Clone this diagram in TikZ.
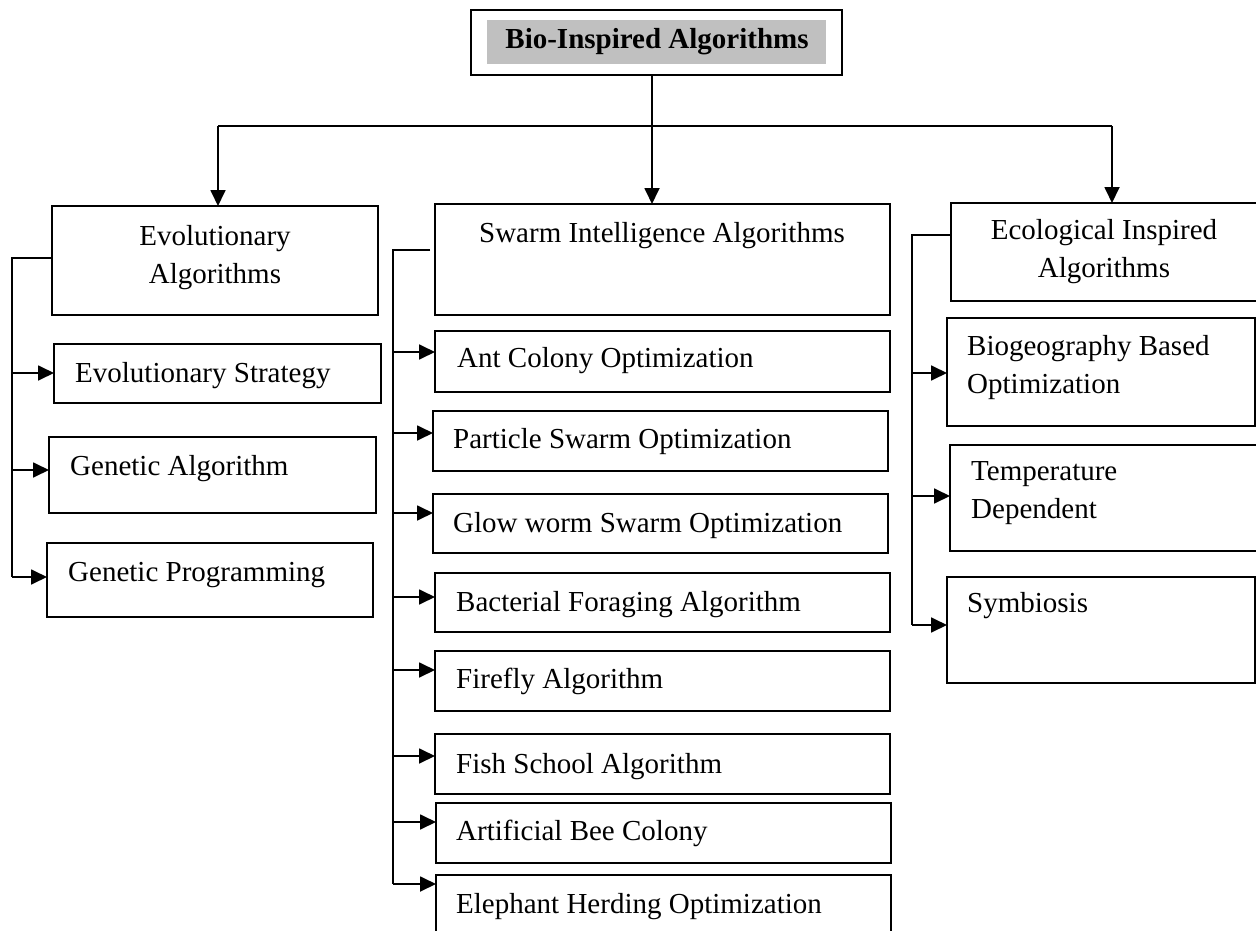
\documentclass[tikz,border=0pt]{standalone}
\usepackage{fontspec}
\setmainfont{Liberation Serif}
\usetikzlibrary{arrows.meta,calc}
% A plain rectangle given by its corners: name, x1, y1, x2, y2 (y grows downwards)
\newcommand\algbox[5]{%
  \node[box, minimum width={(#4-#2)*1pt}, minimum height={(#5-#3)*1pt}] (#1) at (#2,#3) {};}
% A branch arrow from a bus line into a box at height y
\newcommand\feed[3]{\draw[arr] (#1 |- 0,#3) -- (#2.west |- 0,#3);}
\begin{document}
\begin{tikzpicture}[x=1pt,y=-1pt,
  box/.style={draw=black, line width=1.6pt, rectangle, inner sep=0pt, outer sep=0pt, anchor=north west},
  lbl/.style={font=\fontsize{29}{38}\selectfont, inner sep=0pt, align=left, anchor=base west},
  clbl/.style={font=\fontsize{29}{38}\selectfont, inner sep=0pt, align=center, anchor=base},
  wire/.style={line width=1.8pt},
  arr/.style={wire, -{Triangle[length=16pt,width=15pt]}}]
\useasboundingbox (0,0) rectangle (1256,931);
\clip (0,0) rectangle (1256,931);

% ---- root ----
\algbox{root}{471}{10}{842}{75}
\fill[fill={rgb,255:red,192;green,192;blue,192}] (487,20) rectangle (826,64);
\node[clbl, font=\fontsize{29}{38}\selectfont\bfseries] (root-t) at (657,49) {Bio-Inspired Algorithms};

% ---- column headings (base = last line) ----
\algbox{evo}{52}{206}{378}{315}
\node[clbl] (evo-t) at (215,283) {Evolutionary\\Algorithms};
\algbox{swarm}{435}{204}{890}{315}
\node[clbl] (swarm-t) at (662,242) {Swarm Intelligence Algorithms};
\algbox{eco}{951}{203}{1275}{301}
\node[clbl] (eco-t) at (1104,277) {Ecological Inspired\\Algorithms};

% ---- evolutionary family ----
\algbox{es}{54}{344}{381}{403}
\node[lbl] (es-t) at (75,382) {Evolutionary Strategy};
\algbox{ga}{49}{437}{376}{513}
\node[lbl] (ga-t) at (70,475) {Genetic Algorithm};
\algbox{gp}{47}{543}{373}{617}
\node[lbl] (gp-t) at (68,581) {Genetic Programming};

% ---- swarm family ----
\algbox{aco}{435}{331}{890}{392}
\node[lbl] (aco-t) at (457,367) {Ant Colony Optimization};
\algbox{pso}{433}{411}{888}{471}
\node[lbl] (pso-t) at (453,448) {Particle Swarm Optimization};
\algbox{gso}{433}{494}{888}{553}
\node[lbl] (gso-t) at (453,532) {Glow worm Swarm Optimization};
\algbox{bfa}{435}{573}{890}{632}
\node[lbl] (bfa-t) at (456,611) {Bacterial Foraging Algorithm};
\algbox{ffa}{435}{651}{890}{711}
\node[lbl] (ffa-t) at (456,688) {Firefly Algorithm};
\algbox{fsa}{435}{734}{890}{794}
\node[lbl] (fsa-t) at (456,773) {Fish School Algorithm};
\algbox{abc}{436}{803}{891}{863}
\node[lbl] (abc-t) at (456,840) {Artificial Bee Colony};
\algbox{eho}{436}{875}{891}{950}
\node[lbl] (eho-t) at (456,913) {Elephant Herding Optimization};

% ---- ecological family ----
\algbox{bbo}{947}{318}{1255}{426}
\node[lbl] (bbo-t) at (967,393) {Biogeography Based\\Optimization};
\algbox{temp}{950}{445}{1275}{551}
\node[lbl] (temp-t) at (971,518) {Temperature\\Dependent};
\algbox{sym}{947}{577}{1255}{683}
\node[lbl] (sym-t) at (967,612) {Symbiosis};

% ---- top-level distribution ----
\coordinate (jl) at (218,126);
\coordinate (jm) at (652,126);
\coordinate (jr) at (1112,126);
\draw[wire] (jm |- root.south) -- (jm);
\draw[wire] (jl) -- (jr);
\draw[arr] (jl) -- (jl |- evo.north);
\draw[arr] (jm) -- (jm |- swarm.north);
\draw[arr] (jr) -- (jr |- eco.north);

% ---- evolutionary bus ----
\coordinate (b1) at (12,258);
\draw[wire] (evo.west |- b1) -- (b1) -- (12,577);
\feed{b1}{es}{373}
\feed{b1}{ga}{470}
\feed{b1}{gp}{577}

% ---- swarm bus ----
\coordinate (b2) at (393,250);
\draw[wire] (430,250) -- (b2) -- (393,884);
\feed{b2}{aco}{352}
\feed{b2}{pso}{433}
\feed{b2}{gso}{513}
\feed{b2}{bfa}{597}
\feed{b2}{ffa}{670}
\feed{b2}{fsa}{756}
\feed{b2}{abc}{822}
\feed{b2}{eho}{884}

% ---- ecological bus ----
\coordinate (b3) at (912,235);
\draw[wire] (eco.west |- b3) -- (b3) -- (912,625);
\feed{b3}{bbo}{373}
\feed{b3}{temp}{496}
\feed{b3}{sym}{625}
\end{tikzpicture}
\end{document}
